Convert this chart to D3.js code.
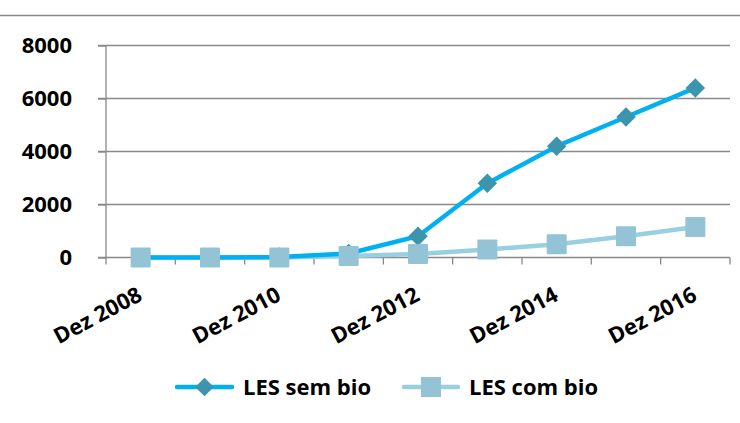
<!DOCTYPE html>
<html><head><meta charset="utf-8">
<script src="https://cdn.jsdelivr.net/npm/d3@7"></script>
<style>body{margin:0;background:#fff}svg{display:block}</style>
</head><body>
<svg id="c" width="740" height="423"></svg>
<script>
const categories = ["Dez 2008","Dez 2009","Dez 2010","Dez 2011","Dez 2012","Dez 2013","Dez 2014","Dez 2015","Dez 2016"];
const semBio = [0, 0, 20, 150, 800, 2800, 4200, 5300, 6400];
const comBio = [0, 0, 0, 60, 130, 300, 500, 800, 1150];
const yTicks = [0, 2000, 4000, 6000, 8000];
const xLabels = ["Dez 2008","Dez 2010","Dez 2012","Dez 2014","Dez 2016"];
const seriesNames = ["LES sem bio", "LES com bio"];

const svg = d3.select("#c");
const font = "'Open Sans', sans-serif";
const gridCol = "#898989";
const c1 = "#00B0F0", m1 = "#3D94AD";
const c2 = "#98D0E2", m2 = "#93C3D5";

// top border line
svg.append("line").attr("x1",0).attr("x2",740).attr("y1",15.5).attr("y2",15.5)
  .attr("stroke",gridCol).attr("stroke-width",1.3);

const x = d3.scaleBand().domain(categories).range([106, 730]);
const y = d3.scaleLinear().domain([0, 8000]).range([257.5, 45.5]);

// gridlines
svg.append("g").selectAll("line").data(yTicks.filter(d=>d>0)).join("line")
  .attr("x1",98).attr("x2",730).attr("y1",d=>y(d)).attr("y2",d=>y(d))
  .attr("stroke",gridCol).attr("stroke-width",1.3);

// y axis
const ya = svg.append("g").attr("transform","translate(106,0)")
  .call(d3.axisLeft(y).tickValues(yTicks).tickSize(8).tickPadding(26).tickFormat(d3.format("d")));
ya.select(".domain").attr("stroke",gridCol).attr("stroke-width",1.3).attr("d","M0,45.5V257.5");
ya.selectAll(".tick line").attr("stroke",gridCol).attr("stroke-width",1.3);
ya.selectAll(".tick text").attr("font-family",font).attr("font-weight","bold").attr("font-size",22).attr("fill","#000");

// x axis
const xa = svg.append("g").attr("transform","translate(0,257.5)");
xa.append("line").attr("x1",98).attr("x2",730).attr("stroke",gridCol).attr("stroke-width",1.3);
const bounds = categories.map(c=>x(c)).concat([x.range()[1]]);
xa.selectAll("line.tk").data(bounds).join("line").attr("class","tk")
  .attr("x1",d=>d).attr("x2",d=>d).attr("y1",0).attr("y2",7)
  .attr("stroke",gridCol).attr("stroke-width",1.3);
xa.selectAll("text").data(xLabels).join("text")
  .attr("transform",d=>`translate(${x(d)+x.bandwidth()/2+3},${42}) rotate(-28)`)
  .attr("text-anchor","end")
  .attr("font-family",font).attr("font-weight","bold").attr("font-size",22).attr("fill","#000")
  .text(d=>d);

const cx = d => x(d) + x.bandwidth()/2;
const line = d3.line().x((d,i)=>cx(categories[i])).y(d=>y(d));

// com bio
svg.append("path").datum(comBio).attr("d",line).attr("fill","none").attr("stroke",c2).attr("stroke-width",4.5);
// sem bio
svg.append("path").datum(semBio).attr("d",line).attr("fill","none").attr("stroke",c1).attr("stroke-width",4.5);
svg.append("g").selectAll("path").data(semBio).join("path")
  .attr("d",d3.symbol(d3.symbolSquare,190))
  .attr("transform",(d,i)=>`translate(${cx(categories[i])},${y(d)}) rotate(45)`)
  .attr("fill",m1);
svg.append("g").selectAll("rect").data(comBio).join("rect")
  .attr("x",(d,i)=>cx(categories[i])-10).attr("y",d=>y(d)-10)
  .attr("width",20).attr("height",20).attr("rx",1).attr("fill",m2);

// legend
const lg = svg.append("g");
lg.append("line").attr("x1",177).attr("x2",232).attr("y1",387).attr("y2",387).attr("stroke",c1).attr("stroke-width",4.5).attr("stroke-linecap","round");
lg.append("path").attr("d",d3.symbol(d3.symbolSquare,170)).attr("transform","translate(204.5,387) rotate(45)").attr("fill",m1);
lg.append("text").attr("x",243).attr("y",387).attr("dy","0.36em").attr("font-family",font).attr("font-weight","bold").attr("font-size",22).text(seriesNames[0]);
lg.append("line").attr("x1",404).attr("x2",458).attr("y1",387).attr("y2",387).attr("stroke",c2).attr("stroke-width",4.5).attr("stroke-linecap","round");
lg.append("rect").attr("x",421).attr("y",377).attr("width",20).attr("height",20).attr("fill",m2);
lg.append("text").attr("x",469).attr("y",387).attr("dy","0.36em").attr("font-family",font).attr("font-weight","bold").attr("font-size",22).text(seriesNames[1]);
</script>
</body></html>
